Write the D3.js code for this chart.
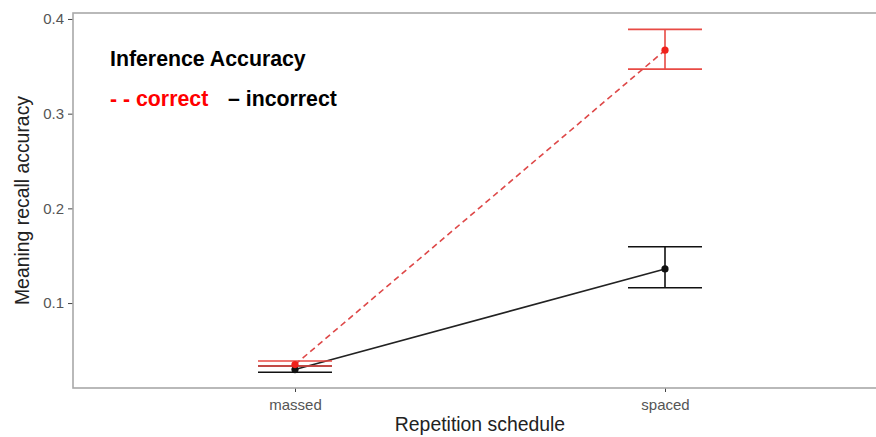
<!doctype html>
<html>
<head>
<meta charset="utf-8">
<script src="https://cdn.jsdelivr.net/npm/d3@7"></script>
<style>
    body { margin: 0; background: #fff; }
    svg { display: block; font-family: "Liberation Sans", Arial, sans-serif; }
</style>
</head>
<body>
<svg id="chart"></svg>
<script>
    // data
    const schedules = ["massed", "spaced"];
    const groups = ["correct", "incorrect"];
    const correctMean = [0.035, 0.367];
    const correctLow = [0.0335, 0.347];
    const correctHigh = [0.0388, 0.389];
    const incorrectMean = [0.0298, 0.136];
    const incorrectLow = [0.027, 0.1162];
    const incorrectHigh = [0.0335, 0.1595];
    const yTicks = [0.1, 0.2, 0.3, 0.4];

    const width = 876, height = 437;
    const panel = {left: 73, right: 887, top: 13, bottom: 388};
    const fontFam = "Liberation Sans, Arial, sans-serif";

    const svg = d3.select("#chart").attr("width", width).attr("height", height);

    const x = d3.scalePoint().domain(schedules).range([panel.left, panel.right]).padding(0.6);
    const y = d3.scaleLinear().domain([0.0103, 0.4063]).range([panel.bottom, panel.top]);
    const barHalf = x.step() * 0.1;

    const series = [
        {name: "incorrect", color: "#111", line: "#222", dash: null,
         rows: schedules.map((s, i) => ({s, m: incorrectMean[i], lo: incorrectLow[i], hi: incorrectHigh[i]}))},
        {name: "correct", color: "#f0211b", line: "#de4848", bar: "#e84a44", dash: "6,4",
         rows: schedules.map((s, i) => ({s, m: correctMean[i], lo: correctLow[i], hi: correctHigh[i]}))}
    ];

    // axes
    const yAxis = svg.append("g")
        .attr("transform", `translate(${panel.left},0)`)
        .call(d3.axisLeft(y).tickValues(yTicks).tickSize(5).tickPadding(4).tickFormat(d3.format(".1f")));
    const xAxis = svg.append("g")
        .attr("transform", `translate(0,${panel.bottom})`)
        .call(d3.axisBottom(x).tickSize(4).tickPadding(7));
    [yAxis, xAxis].forEach(a => {
        a.select(".domain").remove();
        a.selectAll(".tick line").attr("stroke", "#444").attr("stroke-width", 1);
        a.selectAll(".tick text").attr("fill", "#555").attr("font-size", 15).attr("font-family", fontFam);
    });

    // panel border (right side runs off the picture)
    svg.append("rect")
        .attr("x", panel.left).attr("y", panel.top)
        .attr("width", panel.right - panel.left).attr("height", panel.bottom - panel.top)
        .attr("fill", "none").attr("stroke", "#a8a8a8").attr("stroke-width", 1.6);

    const line = d3.line().x(d => x(d.s)).y(d => y(d.m));

    series.forEach(sr => {
        const g = svg.append("g");
        const barColor = sr.bar || sr.color;
        sr.rows.forEach(d => {
            g.append("line")
                .attr("x1", x(d.s)).attr("x2", x(d.s))
                .attr("y1", y(d.lo)).attr("y2", y(d.hi))
                .attr("stroke", barColor).attr("stroke-width", 1.6);
            [d.lo, d.hi].forEach(v => {
                g.append("line")
                    .attr("x1", x(d.s) - barHalf).attr("x2", x(d.s) + barHalf)
                    .attr("y1", y(v)).attr("y2", y(v))
                    .attr("stroke", barColor).attr("stroke-width", 1.6);
            });
        });
        g.append("path")
            .datum(sr.rows)
            .attr("d", line)
            .attr("fill", "none")
            .attr("stroke", sr.line)
            .attr("stroke-width", 1.6)
            .attr("stroke-dasharray", sr.dash);
        g.selectAll("circle")
            .data(sr.rows)
            .join("circle")
            .attr("cx", d => x(d.s)).attr("cy", d => y(d.m))
            .attr("r", 3.6)
            .attr("fill", sr.color);
    });

    // legend written as text inside the panel
    svg.append("text")
        .attr("x", 110).attr("y", 66)
        .attr("font-size", 21.3).attr("font-weight", "bold")
        .attr("font-family", fontFam)
        .text("Inference Accuracy");
    svg.append("text")
        .attr("x", 110).attr("y", 106)
        .attr("font-size", 21.3).attr("font-weight", "bold").attr("fill", "#f00")
        .attr("font-family", fontFam)
        .text("- - " + groups[0]);
    svg.append("text")
        .attr("x", 228).attr("y", 106)
        .attr("font-size", 21.3).attr("font-weight", "bold").attr("fill", "#000")
        .attr("font-family", fontFam)
        .text("\u2013 " + groups[1]);

    // axis titles
    svg.append("text")
        .attr("x", (panel.left + panel.right) / 2).attr("y", 431)
        .attr("text-anchor", "middle").attr("font-size", 19.4).attr("fill", "#222")
        .attr("font-family", fontFam)
        .text("Repetition schedule");
    svg.append("text")
        .attr("transform", `translate(29,${(panel.top + panel.bottom) / 2}) rotate(-90)`)
        .attr("text-anchor", "middle").attr("font-size", 19.4).attr("fill", "#222")
        .attr("font-family", fontFam)
        .text("Meaning recall accuracy");
</script>
</body>
</html>
